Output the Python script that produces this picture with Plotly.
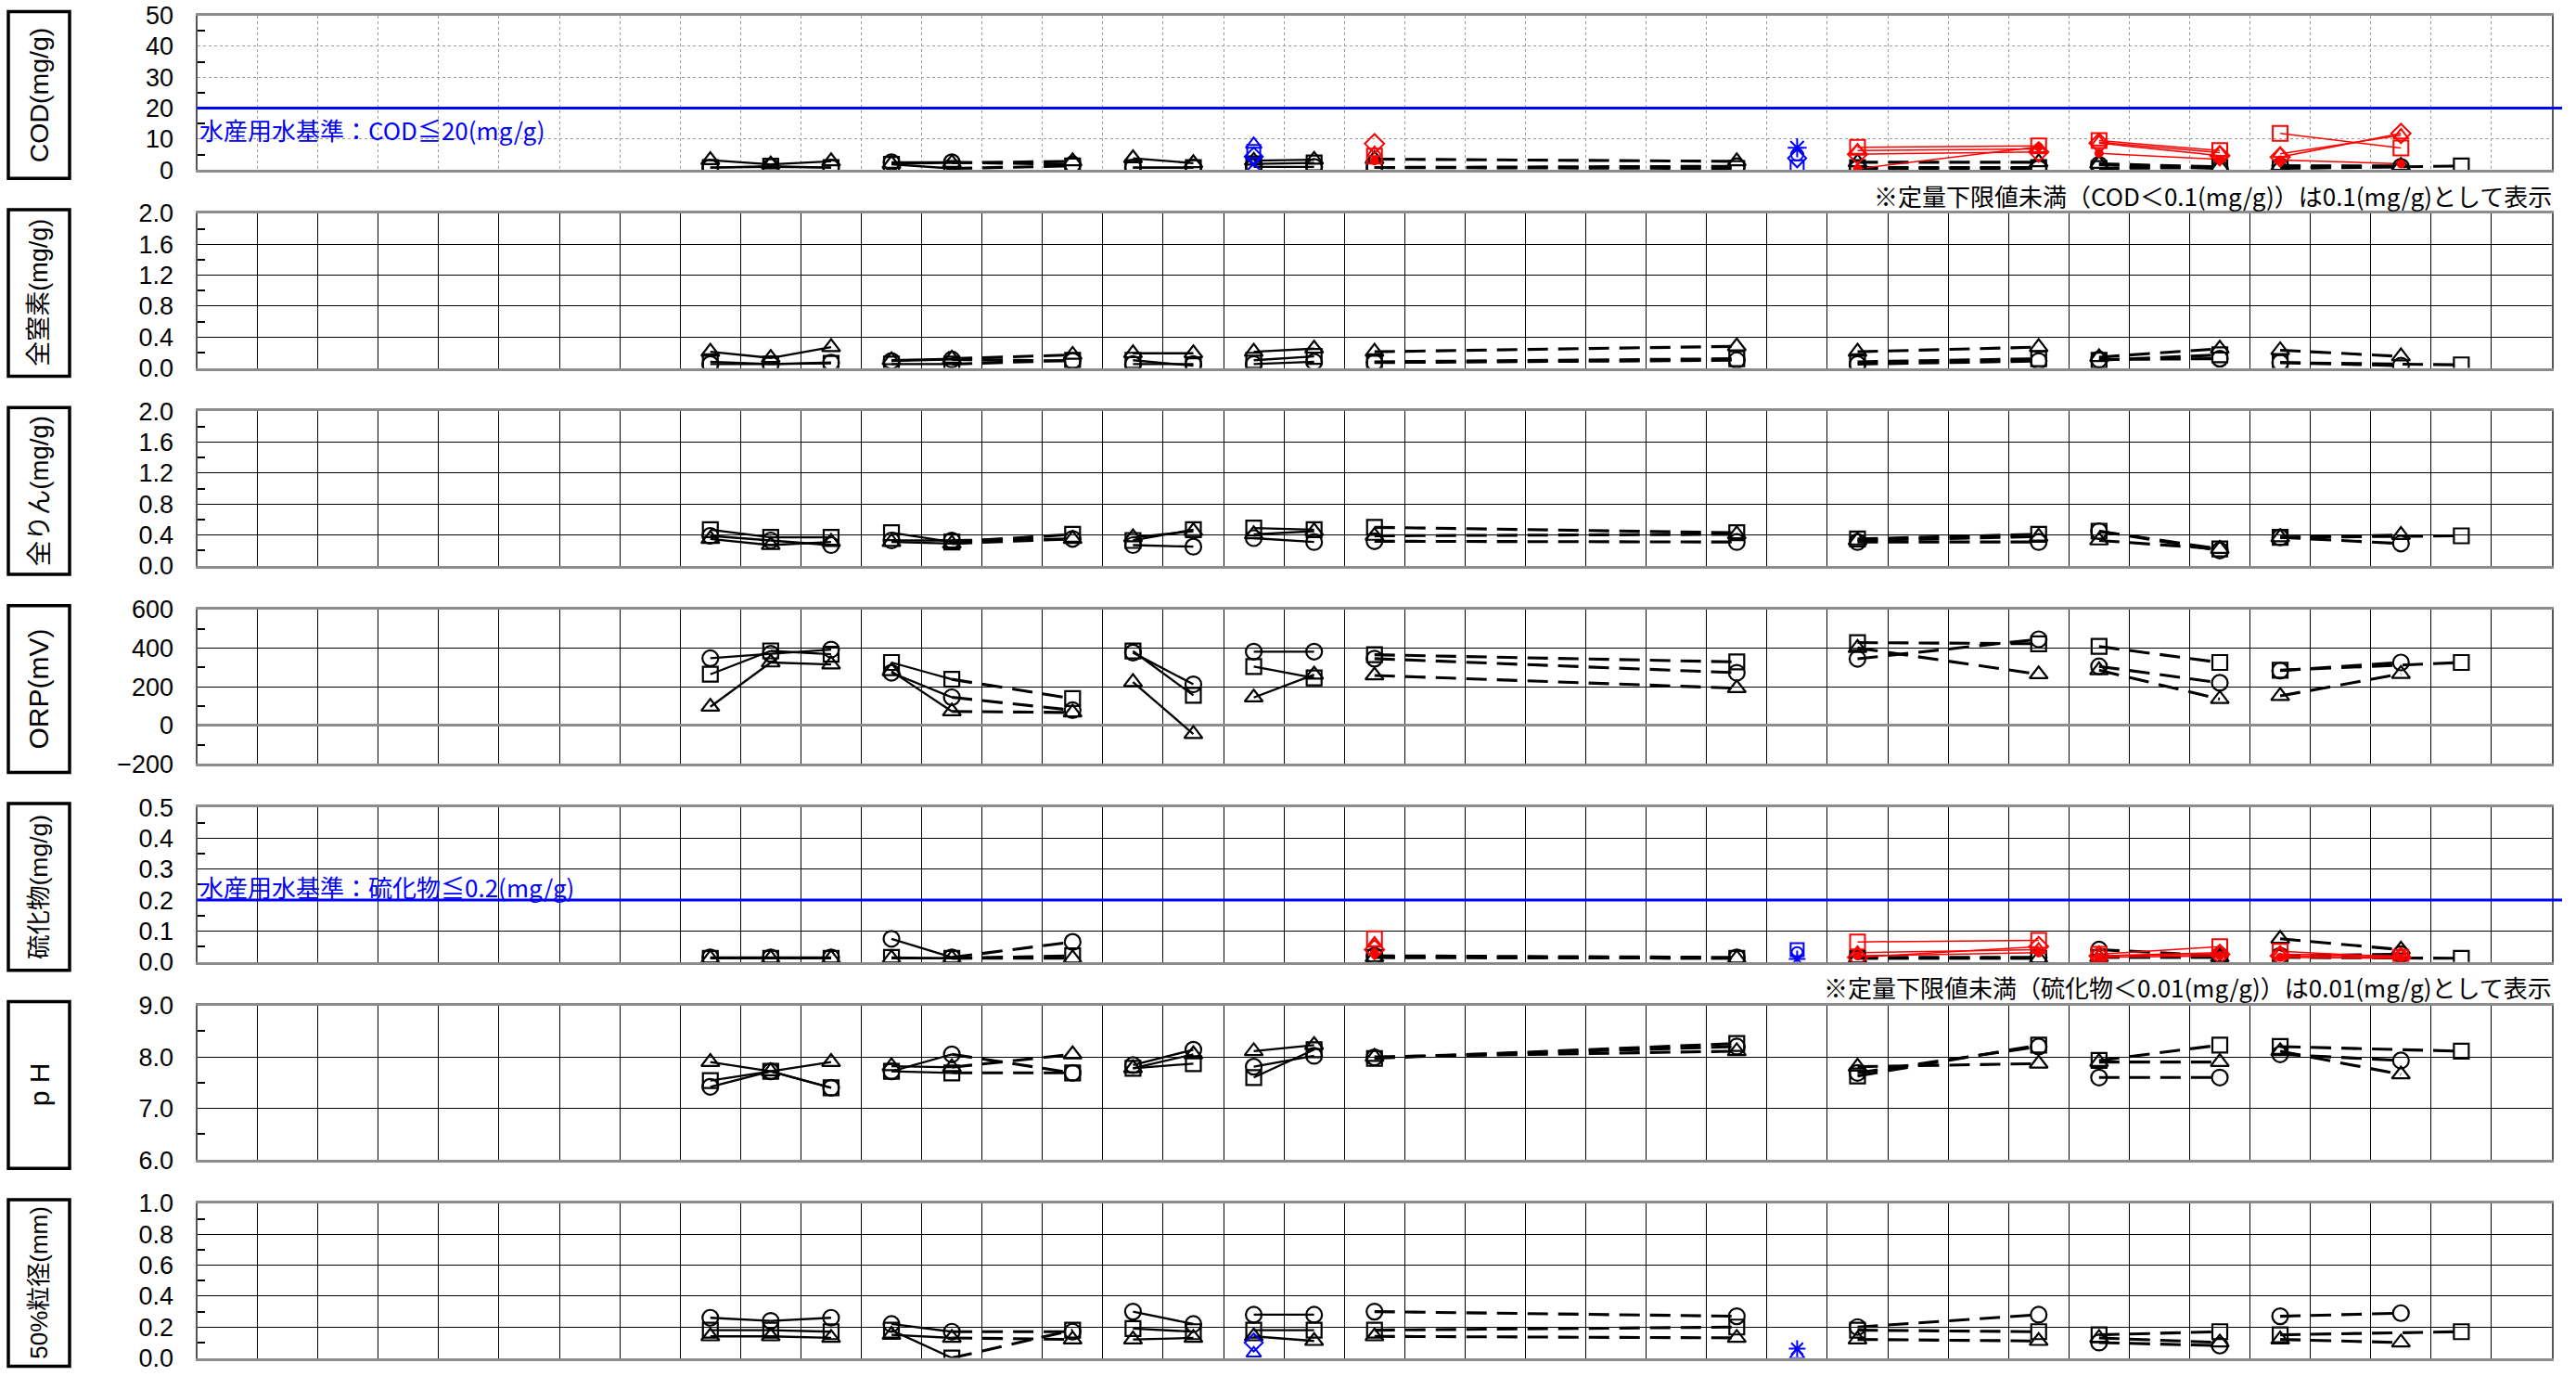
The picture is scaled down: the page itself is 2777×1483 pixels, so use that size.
import plotly.graph_objects as go

W, H = 2777, 1483
NCOL = 39

# ---------------- data ----------------
COLS = [8, 9, 10, 11, 12, 14, 15, 16, 17, 18, 19, 25, 27, 30, 31, 33, 34, 36, 37]
GROUPS = [[8, 9, 10], [11, 12, 14], [15, 16], [17, 18], [19, 25], [27, 30], [31, 33], [34, 36, 37]]

cod_circle = [0.8, 1.0, 0.8, 2.5, 2.5, 1.8, 0.8, 0.8, 1.0, 1.0, 0.8, 1.2, 0.5, 0.5, 1.7, 0.5, 1.3, 1.0, None]
cod_square = [0.8, 1.2, 0.8, 1.8, 0.5, 1.3, 0.8, 0.8, 2.0, 2.3, 0.8, 0.5, 0.8, 0.8, 0.5, 0.8, 0.5, None, 1.3]
cod_triangle = [3.2, 1.8, 2.8, 2.0, 2.3, 2.8, 3.8, 2.2, 3.0, 3.3, 3.5, 2.8, 2.5, 2.5, 2.0, 1.0, 1.3, 1.3, None]

tn_circle = [0.05, 0.05, 0.07, 0.09, 0.11, 0.09, 0.05, 0.05, 0.05, 0.08, 0.07, 0.10, 0.05, 0.09, 0.11, 0.12, 0.07, 0.03, None]
tn_square = [0.08, 0.05, 0.06, 0.05, 0.05, 0.10, 0.10, 0.03, 0.10, 0.15, 0.08, 0.12, 0.08, 0.12, 0.10, 0.17, 0.07, None, 0.04]
tn_triangle = [0.21, 0.13, 0.27, 0.10, 0.12, 0.17, 0.19, 0.19, 0.21, 0.25, 0.21, 0.28, 0.21, 0.27, 0.14, 0.25, 0.23, 0.15, None]

tp_circle = [0.39, 0.33, 0.27, 0.33, 0.33, 0.35, 0.27, 0.25, 0.36, 0.31, 0.32, 0.31, 0.31, 0.31, 0.45, 0.20, 0.37, 0.29, None]
tp_square = [0.47, 0.37, 0.37, 0.43, 0.31, 0.41, 0.33, 0.47, 0.49, 0.47, 0.50, 0.43, 0.35, 0.41, 0.45, 0.22, 0.37, None, 0.39]
tp_triangle = [0.35, 0.27, 0.31, 0.31, 0.29, 0.35, 0.37, 0.45, 0.41, 0.45, 0.39, 0.41, 0.33, 0.38, 0.33, 0.22, 0.37, 0.40, None]

orp_circle = [347, 370, 392, 272, 145, 78, 376, 212, 381, 381, 345, 272, 344, 445, 305, 220, 283, 325, None]
orp_square = [264, 385, 368, 325, 238, 138, 384, 155, 304, 245, 365, 328, 428, 422, 408, 325, 285, None, 325]
orp_triangle = [96, 325, 315, 280, 72, 66, 224, -45, 144, 262, 258, 192, 400, 264, 285, 136, 152, 266, None]

s_circle = [0.015, 0.015, 0.015, 0.075, 0.015, 0.065, None, None, None, None, 0.02, 0.015, 0.015, 0.015, 0.04, 0.02, 0.02, 0.025, None]
s_square = [0.012, 0.012, 0.012, 0.015, 0.012, 0.02, None, None, None, None, 0.015, 0.012, 0.012, 0.012, 0.015, 0.015, 0.015, None, 0.012]
s_triangle = [0.012, 0.012, 0.012, 0.012, 0.012, 0.012, None, None, None, None, 0.015, 0.012, 0.012, 0.012, 0.015, 0.015, 0.075, 0.04, None]

ph_circle = [7.42, 7.72, 7.40, 7.72, 8.05, 7.69, 7.84, 8.14, 7.81, 8.02, 7.99, 8.20, 7.69, 8.20, 7.60, 7.60, 8.05, 7.93, None]
ph_square = [7.54, 7.72, 7.40, 7.72, 7.69, 7.69, 7.78, 7.87, 7.60, 8.14, 7.97, 8.26, 7.63, 8.23, 7.93, 8.23, 8.20, None, 8.11]
ph_triangle = [7.90, 7.72, 7.90, 7.82, 7.80, 8.05, 7.78, 8.05, 8.11, 8.23, 8.00, 8.11, 7.81, 7.87, 7.90, 7.90, 8.11, 7.66, None]

d50_circle = [0.26, 0.24, 0.26, 0.22, 0.17, 0.17, 0.30, 0.22, 0.28, 0.28, 0.30, 0.27, 0.20, 0.28, 0.10, 0.08, 0.27, 0.29, None]
d50_square = [0.18, 0.18, 0.17, 0.18, 0.00, 0.18, 0.19, 0.17, 0.18, 0.18, 0.18, 0.20, 0.18, 0.17, 0.15, 0.17, 0.15, None, 0.17]
d50_triangle = [0.14, 0.14, 0.13, 0.15, 0.13, 0.12, 0.12, 0.13, 0.14, 0.11, 0.14, 0.13, 0.12, 0.11, 0.13, 0.10, 0.12, 0.10, None]

# red series (COD and sulfide only)
RED_COLS = [19, 27, 30, 31, 33, 34, 36]
RED_GROUPS = [[19], [27, 30], [31, 33], [34, 36]]
cod_red_square = [4.5, 7.3, 7.8, 9.5, 6.3, 11.8, 7.1]
cod_red_diamond = [8.5, 5.1, 5.8, 8.7, 4.6, 4.2, 11.8]
cod_red_triangle = [5.5, 6.3, 6.8, 9.0, 5.6, 5.2, 11.2]
cod_red_circle = [3.0, 0.4, 7.5, 5.4, 3.4, 3.2, 2.0]
s_red_square = [0.075, 0.065, 0.07, 0.025, 0.05, 0.035, 0.015]
s_red_diamond = [0.04, 0.015, 0.05, 0.02, 0.025, 0.02, 0.015]
s_red_triangle = [0.06, 0.03, 0.04, 0.02, 0.03, 0.025, 0.02]
s_red_circle = [0.03, 0.02, 0.03, 0.015, 0.02, 0.015, 0.012]

# blue single observations
BLUE_COLS = [17, 26]
cod_blue_triangle = [8.3, None]
cod_blue_square = [6.0, 1.0]
cod_blue_diamond = [4.3, 3.8]
cod_blue_x = [2.0, None]
cod_blue_star = [None, 7.2]
cod_blue_circle = [None, 5.0]
s_blue_square = [None, 0.04]
s_blue_circle = [None, 0.03]
s_blue_star = [None, 0.01]
d50_blue_diamond = [0.10, None]
d50_blue_triangle = [0.03, 0.02]
d50_blue_star = [None, 0.06]

TITLES = ["COD(mg/g)", "全窒素(mg/g)", "全りん(mg/g)", "ORP(mV)", "硫化物(mg/g)", "p H", "50%粒径(mm)"]
TITLE_SIZES = [28.5, 27, 27.5, 30, 26.5, 30, 26]
RANGES = [[0, 50], [0, 2.0], [0, 2.0], [-200, 600], [0, 0.5], [6.0, 9.0], [0, 1.0]]
DTICKS = [10, 0.4, 0.4, 200, 0.1, 1.0, 0.2]
MINORS = [5, 0.2, 0.2, 100, 0.05, 0.5, 0.1]
FORMATS = ["d", ".1f", ".1f", "d", ".1f", ".1f", ".1f"]

BLACK = [
    (cod_circle, cod_square, cod_triangle),
    (tn_circle, tn_square, tn_triangle),
    (tp_circle, tp_square, tp_triangle),
    (orp_circle, orp_square, orp_triangle),
    (s_circle, s_square, s_triangle),
    (ph_circle, ph_square, ph_triangle),
    (d50_circle, d50_square, d50_triangle),
]

# ---------------- layout geometry ----------------
PL, PR = 212.5, 2751.0
TOP0, PITCH, PH = 16.5, 213.4, 166.7
FONT = "Liberation Sans, Arial, Noto Sans CJK JP"
JFONT = "Noto Sans CJK JP, Liberation Sans"

fig = go.Figure()


def ax(i):
    return "" if i == 0 else str(i + 1)


def add_lines(i, cols, vals, groups, color, width, dashed_gaps):
    sx, sy, dx, dy = [], [], [], []
    for g in groups:
        pts = [(c, vals[cols.index(c)]) for c in g if c in cols and vals[cols.index(c)] is not None]
        for (c1, v1), (c2, v2) in zip(pts, pts[1:]):
            if c2 - c1 == 1 or not dashed_gaps:
                sx += [c1 + 0.5, c2 + 0.5, None]
                sy += [v1, v2, None]
            else:
                dx += [c1 + 0.5, c2 + 0.5, None]
                dy += [v1, v2, None]
    a = ax(i)
    if sx:
        fig.add_trace(go.Scatter(x=sx, y=sy, mode="lines", xaxis="x" + a, yaxis="y" + a,
                                 line=dict(color=color, width=width), showlegend=False, hoverinfo="skip"))
    if dx:
        fig.add_trace(go.Scatter(x=dx, y=dy, mode="lines", xaxis="x" + a, yaxis="y" + a,
                                 line=dict(color=color, width=width + 0.8, dash="22px,11px"),
                                 showlegend=False, hoverinfo="skip"))


def add_markers(i, cols, vals, symbol, color, size, lw=2):
    xs = [c + 0.5 for c, v in zip(cols, vals) if v is not None]
    ys = [v for v in vals if v is not None]
    a = ax(i)
    fig.add_trace(go.Scatter(x=xs, y=ys, mode="markers", xaxis="x" + a, yaxis="y" + a,
                             marker=dict(symbol=symbol, size=size, color=color,
                                         line=dict(color=color, width=lw)),
                             showlegend=False, hoverinfo="skip"))


SYMS = ["circle-open", "square-open", "triangle-up-open"]
SIZES = [17, 16, 17]

for i in range(7):
    for vals in BLACK[i]:
        add_lines(i, COLS, vals, GROUPS, "black", 2.3, True)

RED = [(0, (cod_red_square, cod_red_diamond, cod_red_triangle, cod_red_circle)),
       (4, (s_red_square, s_red_diamond, s_red_triangle, s_red_circle))]
for i, reds in RED:
    for vals in reds:
        add_lines(i, RED_COLS, vals, RED_GROUPS, "red", 1.5, False)

for i in range(7):
    for vals, sym, sz in zip(BLACK[i], SYMS, SIZES):
        add_markers(i, COLS, vals, sym, "black", sz, 2.2)

for i, reds in RED:
    add_markers(i, RED_COLS, reds[0], "square-open", "red", 16)
    add_markers(i, RED_COLS, reds[1], "diamond-open", "red", 16)
    add_markers(i, RED_COLS, reds[2], "triangle-up-open", "red", 14)
    add_markers(i, RED_COLS, reds[3], "circle", "red", 9, 1)

# blue
add_markers(0, BLUE_COLS, cod_blue_triangle, "triangle-up-open", "blue", 15)
add_markers(0, BLUE_COLS, cod_blue_square, "square-open", "blue", 14)
add_markers(0, BLUE_COLS, cod_blue_diamond, "diamond-open", "blue", 15)
add_markers(0, BLUE_COLS, cod_blue_x, "x-thin-open", "blue", 15)
add_markers(0, BLUE_COLS, cod_blue_star, "asterisk-open", "blue", 17)
add_markers(0, BLUE_COLS, cod_blue_circle, "circle-open", "blue", 13)
add_markers(4, BLUE_COLS, s_blue_square, "square-open", "blue", 14)
add_markers(4, BLUE_COLS, s_blue_circle, "circle-open", "blue", 12)
add_markers(4, BLUE_COLS, s_blue_star, "asterisk-open", "blue", 15)
add_markers(6, BLUE_COLS, d50_blue_diamond, "diamond-open", "blue", 15)
add_markers(6, BLUE_COLS, d50_blue_triangle, "triangle-up-open", "blue", 14)
add_markers(6, BLUE_COLS, d50_blue_star, "asterisk-open", "blue", 15)

layout = dict(width=W, height=H, margin=dict(l=0, r=0, t=0, b=0, pad=0, autoexpand=False),
              plot_bgcolor="white", paper_bgcolor="white", showlegend=False)
shapes, annotations = [], []

for i in range(7):
    top = TOP0 + PITCH * i
    bot = top + PH
    a = ax(i)
    cod = (i == 0)
    gcol = "#9a9a9a" if cod else "black"
    gdash = "dot" if cod else "solid"
    layout["xaxis" + a] = dict(domain=[PL / W, PR / W], range=[0, NCOL], anchor="y" + a,
                               tick0=0, dtick=1, showticklabels=False, ticks="", automargin=False,
                               showgrid=True, gridcolor=gcol, gridwidth=1, griddash=gdash,
                               showline=True, mirror=True, linecolor="#8c8c8c", linewidth=3,
                               zeroline=False, fixedrange=True)
    layout["yaxis" + a] = dict(domain=[1 - bot / H, 1 - top / H], range=RANGES[i], anchor="x" + a,
                               tick0=RANGES[i][0], dtick=DTICKS[i], tickformat=FORMATS[i],
                               tickfont=dict(family=FONT, size=27, color="black"),
                               ticks="", ticklabelstandoff=18, automargin=False,
                               showgrid=True, gridcolor=gcol, gridwidth=1, griddash=gdash,
                               minor=dict(dtick=MINORS[i], tick0=RANGES[i][0], ticks="inside",
                                          ticklen=8, tickcolor="black", tickwidth=1.5, showgrid=False),
                               showline=True, mirror=True, linecolor="#555555", linewidth=2,
                               zeroline=(i == 3), zerolinecolor="#8c8c8c", zerolinewidth=3,
                               fixedrange=True)
    # label box
    shapes.append(dict(type="rect", xref="paper", yref="paper",
                       x0=9 / W, x1=75 / W, y0=1 - (bot + 9) / H, y1=1 - (top - 4) / H,
                       line=dict(color="black", width=3.5), fillcolor="white", layer="above"))
    annotations.append(dict(text=TITLES[i], xref="paper", yref="paper",
                            x=42 / W, y=1 - (top + bot + 5) / 2 / H, showarrow=False,
                            textangle=-90, xanchor="center", yanchor="middle",
                            font=dict(family=FONT, size=TITLE_SIZES[i], color="black")))

# standard lines
shapes.append(dict(type="line", xref="paper", yref="y", x0=PL / W, x1=2762 / W, y0=20, y1=20,
                   line=dict(color="blue", width=3), layer="above"))
shapes.append(dict(type="line", xref="paper", yref="y5", x0=PL / W, x1=2762 / W, y0=0.2, y1=0.2,
                   line=dict(color="blue", width=3), layer="above"))
annotations.append(dict(text="水産用水基準：COD≦20(mg/g)", xref="paper", yref="y", x=PL / W, y=13.2,
                        xanchor="left", yanchor="middle", showarrow=False,
                        font=dict(family=JFONT, size=26, color="blue")))
annotations.append(dict(text="水産用水基準：硫化物≦0.2(mg/g)", xref="paper", yref="y5", x=PL / W, y=0.243,
                        xanchor="left", yanchor="middle", showarrow=False,
                        font=dict(family=JFONT, size=26, color="blue")))
annotations.append(dict(text="※定量下限値未満（COD＜0.1(mg/g)）は0.1(mg/g)として表示", xref="paper", yref="paper",
                        x=2753 / W, y=1 - 210 / H, xanchor="right", yanchor="middle", showarrow=False,
                        font=dict(family=JFONT, size=26, color="black")))
annotations.append(dict(text="※定量下限値未満（硫化物＜0.01(mg/g)）は0.01(mg/g)として表示", xref="paper", yref="paper",
                        x=2753 / W, y=1 - 1063 / H, xanchor="right", yanchor="middle", showarrow=False,
                        font=dict(family=JFONT, size=26, color="black")))

layout["shapes"] = shapes
layout["annotations"] = annotations
fig.update_layout(**layout)
fig.write_html("out.html", config={"displayModeBar": False},
               post_script="document.body.style.margin='0';document.body.style.padding='0';"
                           "document.documentElement.style.overflow='hidden';")
